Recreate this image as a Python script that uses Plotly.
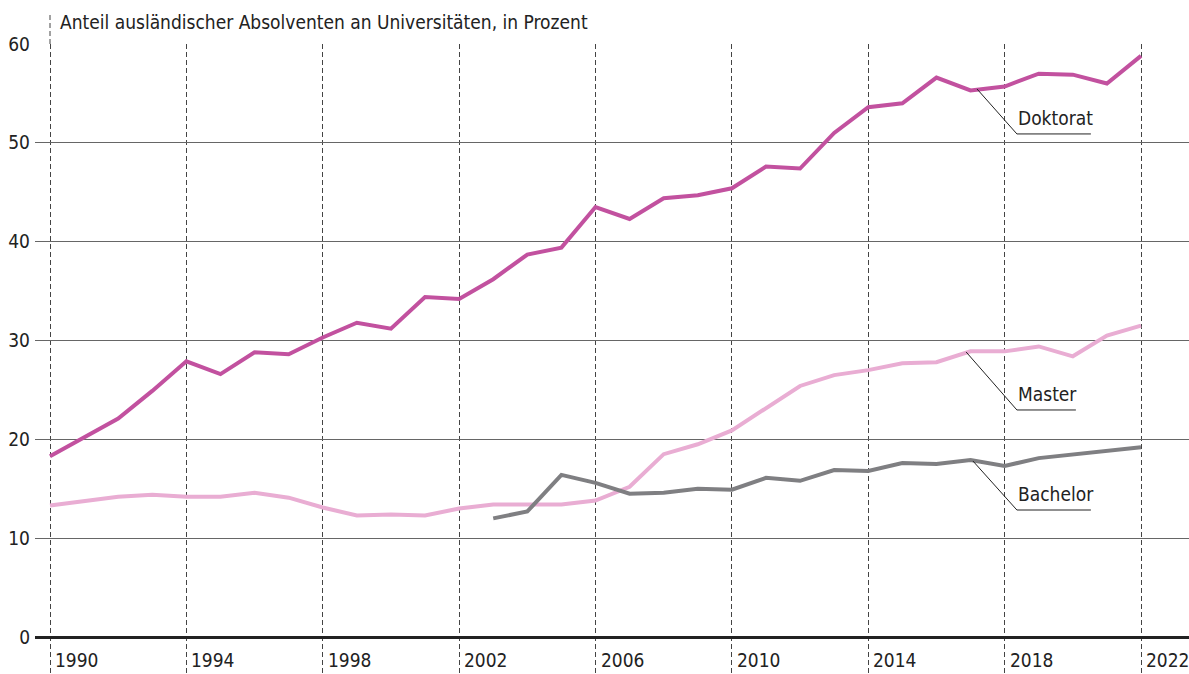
import plotly.graph_objects as go

years = list(range(1990, 2023))
doktorat = [18.3, 20.2, 22.1, 24.9, 27.9, 26.6, 28.8, 28.6, 30.3, 31.8, 31.2, 34.4, 34.2,
            36.2, 38.7, 39.4, 43.5, 42.3, 44.4, 44.7, 45.4, 47.6, 47.4, 51.0, 53.6, 54.0,
            56.6, 55.3, 55.7, 57.0, 56.9, 56.0, 58.8]
master = [13.3, 13.7, 14.2, 14.4, 14.2, 14.2, 14.6, 14.1, 13.1, 12.3, 12.4, 12.3, 13.0,
          13.4, 13.4, 13.4, 13.8, 15.2, 18.5, 19.5, 20.9, 23.1, 25.4, 26.5, 27.0, 27.7,
          27.8, 28.9, 28.9, 29.4, 28.4, 30.5, 31.5]
bachelor_years = list(range(2003, 2023))
bachelor = [12.0, 12.7, 16.4, 15.6, 14.5, 14.6, 15.0, 14.9, 16.1, 15.8, 16.9, 16.8, 17.6,
            17.5, 17.9, 17.3, 18.1, 18.45, 18.8, 19.2]

x_ticks = [1990, 1994, 1998, 2002, 2006, 2010, 2014, 2018, 2022]
x_tick_labels = [str(v) for v in x_ticks]
y_ticks = [0, 10, 20, 30, 40, 50, 60]
title_text = "Anteil ausländischer Absolventen an Universitäten, in Prozent"

FONT = "Liberation Sans Narrow, DejaVu Sans Condensed, Arial Narrow, sans-serif"
C_DOK = "#C2519F"
C_MAS = "#E9ADD3"
C_BAC = "#7F7F82"

fig = go.Figure()
fig.add_trace(go.Scatter(x=years, y=master, mode="lines",
                         line=dict(color=C_MAS, width=4), hoverinfo="skip"))
fig.add_trace(go.Scatter(x=bachelor_years, y=bachelor, mode="lines",
                         line=dict(color=C_BAC, width=4), hoverinfo="skip"))
fig.add_trace(go.Scatter(x=years, y=doktorat, mode="lines",
                         line=dict(color=C_DOK, width=4), hoverinfo="skip"))

W, H = 1189, 674
ml, mr, mt, mb = 35, 0, 44, 0
px_per_year = (1141 - 50) / 32.0
x_lo = 1990 - (50 - ml) / px_per_year
x_hi = 2022 + (W - mr - 1141) / px_per_year
px_per_unit = (637 - 44) / 60.0
y_lo = -(H - mb - 637) / px_per_unit
plot_h = H - mt - mb

# dashed extension of the 1990 gridline above the plot
fig.add_shape(type="line", xref="x", yref="paper", x0=x_ticks[0], x1=x_ticks[0],
              y0=1, y1=1 + 29 / plot_h,
              line=dict(color="#444", width=1, dash="5px,3px"))

# x tick labels, right of gridlines
annotations = []
for xv, lab in zip(x_ticks, x_tick_labels):
    annotations.append(dict(x=xv, y=0, xref="x", yref="paper", text=lab,
                            showarrow=False, xanchor="left", yanchor="bottom",
                            xshift=3, yshift=1,
                            font=dict(family=FONT, size=19, color="#222")))

annotations.append(dict(x=(58 - ml) / (W - ml - mr), y=1 + 22 / plot_h, xref="paper", yref="paper",
                        text=title_text, showarrow=False, xanchor="left", yanchor="middle",
                        font=dict(family=FONT, size=19, color="#222")))

# series labels with leader lines
labels = [
    ("Doktorat", (2017.19, 55.45), (2018.36, 50.9), 2020.53),
    ("Master", (2016.87, 28.84), (2018.36, 22.97), 2020.09),
    ("Bachelor", (2017.07, 17.81), (2018.36, 12.85), 2020.53),
]
for text, p0, p1, xend in labels:
    fig.add_shape(type="path", xref="x", yref="y",
                  path=f"M {p0[0]},{p0[1]} L {p1[0]},{p1[1]} L {xend},{p1[1]}",
                  line=dict(color="#222", width=1))
    annotations.append(dict(x=p1[0], y=p1[1], xref="x", yref="y", text=text,
                            showarrow=False, xanchor="left", yanchor="bottom",
                            xshift=-1, yshift=3,
                            font=dict(family=FONT, size=19, color="#222")))

fig.update_layout(
    width=W, height=H,
    margin=dict(l=ml, r=mr, t=mt, b=mb, pad=0),
    paper_bgcolor="white", plot_bgcolor="white",
    showlegend=False,
    annotations=annotations,
    xaxis=dict(range=[x_lo, x_hi], tickvals=x_ticks, showticklabels=False,
               showgrid=True, gridcolor="#444", gridwidth=1, griddash="5px,3px",
               zeroline=False, showline=False, ticks="", fixedrange=True),
    yaxis=dict(range=[y_lo, 60], tickvals=y_ticks, ticktext=[str(v) for v in y_ticks],
               showgrid=True, gridcolor="#666", gridwidth=1,
               zeroline=True, zerolinecolor="#222", zerolinewidth=3,
               showline=False, ticks="", ticklabelstandoff=4,
               tickfont=dict(family=FONT, size=19, color="#222"), fixedrange=True),
)

fig.write_html("out.html", config={"displayModeBar": False},
               post_script="document.body.style.margin='0';document.body.style.overflow='hidden';")
